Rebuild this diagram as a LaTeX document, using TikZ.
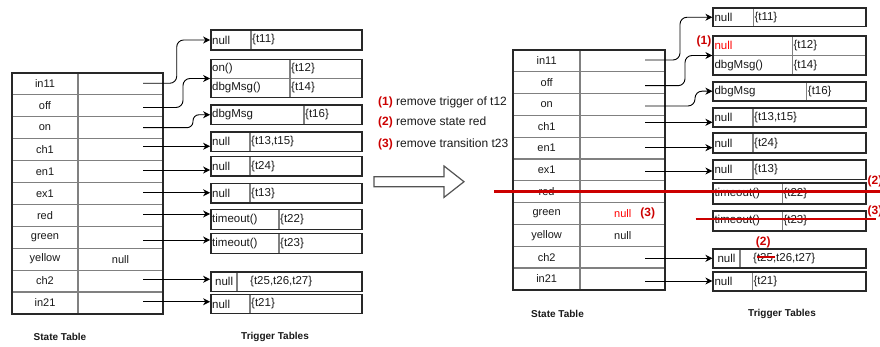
\documentclass[tikz,border=0pt]{standalone}
\usepackage{fontspec}
\setmainfont{Liberation Sans}
\usetikzlibrary{arrows.meta}
\definecolor{bordercol}{RGB}{40,40,40}
\definecolor{divcol}{RGB}{128,128,128}
\definecolor{strikecol}{RGB}{204,0,0}
\definecolor{nullred}{RGB}{255,0,0}
\definecolor{inkcol}{RGB}{25,25,25}
\tikzset{
 tbox/.style={draw=bordercol, line width=1.8pt, inner sep=0pt, rectangle},
 divline/.style={draw=divcol, line width=1.2pt},
 txt/.style={inner sep=1pt, font=\fontsize{11.5}{13}\selectfont, text=inkcol},
 celltxt/.style={inner sep=0pt, font=\fontsize{11}{13}\selectfont, text=inkcol},
 caption/.style={font=\fontsize{10}{12}\selectfont\bfseries, text=inkcol},
 note/.style={font=\fontsize{12}{14}\selectfont, text=inkcol, inner sep=1pt, anchor=west},
 redtag/.style={font=\fontsize{12}{14}\selectfont\bfseries, text=strikecol, inner sep=0.5pt},
 arr/.style={draw=black, line width=0.9pt, -{Stealth[length=7pt,width=7pt,inset=2.2pt]}},
 strike/.style={draw=strikecol, line width=2.4pt},
 hollow/.style={draw=bordercol!80, line width=1.2pt, fill=white},
}
% name, x1, y1, x2, y2, xdiv, left text, right text
\newcommand\trigbox[8]{%
 \draw[divline] (#6,#3) -- (#6,#5);
 \node[tbox, minimum width={(#4-#2)*1pt}, minimum height={(#5-#3)*1pt}] (#1) at ({(#2+#4)/2},{(#3+#5)/2}) {};
 \node[txt, anchor=west] (#1-a) at (#2,{(#3+#5)/2}) {#7};
 \node[txt, anchor=west] (#1-b) at (#6,{(#3+#5)/2}) {#8};
}
% prefix, x1, xdiv, x2, ytop, row height
\newcommand\statetable[6]{%
 \foreach \nm [count=\i from 0] in {in11,off,on,ch1,en1,ex1,red,green,yellow,ch2,in21} {
  \node[celltxt] (#1-\nm) at ({(#2+#3)/2},{#5+(\i+0.5)*#6}) {\nm};
  \ifnum\i>0 \draw[divline] (#2,{#5+\i*#6}) -- (#4,{#5+\i*#6}); \fi
 }
 \draw[divline] (#3,#5) -- (#3,{#5+11*#6});
 \node[tbox, minimum width={(#4-#2)*1pt}, minimum height={11*#6*1pt}] (#1) at ({(#2+#4)/2},{#5+5.5*#6}) {};
}
\begin{document}
\begin{tikzpicture}[x=1pt,y=-1pt]
\useasboundingbox (0,0) rectangle (880,347);

% ---------------- left side ----------------
\statetable{L}{12}{78}{163}{73}{21.9}
\node[celltxt] (L-yellow-v) at (120.5,259.2) {null};

\trigbox{LT11}{211}{30}{362}{50}{251}{null}{\{t11\}}
% double box t12/t14
\draw[divline] (290,59.5) -- (290,97.5);
\draw[divline] (211,78.5) -- (362,78.5);
\node[tbox, minimum width=151pt, minimum height=38pt] (LT12) at (286.5,78.5) {};
\node[txt, anchor=west] (LT12-a) at (211,69) {on()};
\node[txt, anchor=west] (LT12-b) at (290,69) {\{t12\}};
\node[txt, anchor=west] (LT12-c) at (211,88) {dbgMsg()};
\node[txt, anchor=west] (LT12-d) at (290,88) {\{t14\}};
\trigbox{LT16}{211}{105}{362}{124.5}{304}{dbgMsg}{\{t16\}}
\trigbox{LT1315}{211}{132}{362}{151.5}{250}{null}{\{t13,t15\}}
\trigbox{LT24}{211}{156.5}{362}{176}{250}{null}{\{t24\}}
\trigbox{LT13}{211}{183.5}{362}{203}{250}{null}{\{t13\}}
\trigbox{LT22}{211}{209.5}{362}{229.5}{279}{timeout()}{\{t22\}}
\trigbox{LT23}{211}{233.5}{362}{253.5}{279}{timeout()}{\{t23\}}
\trigbox{LT25}{211}{272}{362}{291.5}{237}{\hspace{3pt}null}{\hspace{12pt}\{t25,t26,t27\}}
\trigbox{LT21}{211}{294.5}{362}{313.5}{250}{null}{\{t21\}}

\foreach \nm/\yy in {in11/83.3,off/107.5,on/127.7,ch1/146.3,en1/170,ex1/192.7,red/214,green/240,ch2/279.3,in21/301.7}
  \coordinate (LS-\nm) at (143,\yy);

\draw[arr, rounded corners=7pt] (LS-in11) -- ++(33.7,0) |- (LT11.west);
\draw[arr, rounded corners=7pt] (LS-off) -- ++(40,0) |- (LT12.west);
\draw[arr, rounded corners=6pt] (LS-on) -- ++(50,0) |- (LT16.west);
\draw[arr] (LS-ch1) -- (LS-ch1 -| LT1315.west);
\draw[arr] (LS-en1) -- (LS-en1 -| LT24.west);
\draw[arr] (LS-ex1) -- (LS-ex1 -| LT13.west);
\draw[arr] (LS-red) -- (LS-red -| LT22.west);
\draw[arr] (LS-green) -- (LS-green -| LT23.west);
\draw[arr] (LS-ch2) -- (LS-ch2 -| LT25.west);
\draw[arr] (LS-in21) -- (LS-in21 -| LT21.west);

\node[caption] (Lcap1) at (60,337) {State Table};
\node[caption] (Lcap2) at (275,337) {Trigger Tables};

% ---------------- middle ----------------
\node[note] (n1) at (377,102.7) {\textcolor{strikecol}{\bfseries (1)} remove trigger of t12};
\node[note] (n2) at (377,122.3) {\textcolor{strikecol}{\bfseries (2)} remove state red};
\node[note] (n3) at (377,144) {\textcolor{strikecol}{\bfseries (3)} remove transition t23};
\draw[hollow] (374,176.7) -- (444,176.7) -- (444,166) -- (464,181.7) -- (444,197.4) -- (444,186.7) -- (374,186.7) -- cycle;

% ---------------- right side ----------------
\statetable{R}{513.3}{580}{665}{50}{21.8}
\node[celltxt] (R-yellow-v) at (622.7,235.3) {null};
\node[celltxt, text=nullred] (R-green-v) at (622.7,213.5) {null};
\node[redtag] (tag3g) at (647.7,213.5) {(3)};

\trigbox{RT11}{713.3}{8}{865.7}{26.5}{753.3}{null}{\{t11\}}
\draw[divline] (792.3,36) -- (792.3,75);
\draw[divline] (713.3,55.5) -- (865.7,55.5);
\node[tbox, minimum width=152.4pt, minimum height=39pt] (RT12) at (789.5,55.5) {};
\node[txt, anchor=west, text=nullred] (RT12-a) at (713.3,45.75) {null};
\node[txt, anchor=west] (RT12-b) at (792.3,45.75) {\{t12\}};
\node[txt, anchor=west] (RT12-c) at (713.3,65.25) {dbgMsg()};
\node[txt, anchor=west] (RT12-d) at (792.3,65.25) {\{t14\}};
\node[redtag, anchor=east] (tag1) at (712,41) {(1)};
\trigbox{RT16}{713.3}{81.7}{865.7}{100.7}{806.7}{dbgMsg}{\{t16\}}
\trigbox{RT1315}{713.3}{107.7}{865.7}{127.3}{753}{null}{\{t13,t15\}}
\trigbox{RT24}{713.3}{133.3}{865.7}{153.3}{753}{null}{\{t24\}}
\trigbox{RT13}{713.3}{160}{865.7}{179.5}{753}{null}{\{t13\}}
\trigbox{RT22}{713.3}{183.3}{865.7}{204}{782.3}{timeout()}{\{t22\}}
\trigbox{RT23}{713.3}{210.7}{865.7}{231}{782.3}{timeout()}{\{t23\}}
\trigbox{RT25}{713.3}{249}{865.7}{267.7}{740}{\hspace{3pt}null}{\hspace{12pt}\{t25,t26,t27\}}
\trigbox{RT21}{713.3}{271.7}{865.7}{290.7}{752.3}{null}{\{t21\}}

\foreach \nm/\yy in {in11/60,off/85.7,on/106,ch1/122.3,en1/147.7,ex1/171,ch2/258.3,in21/281}
  \coordinate (RS-\nm) at (645,\yy);

\draw[arr, rounded corners=7pt] (RS-in11) -- ++(35,0) |- (RT11.west);
\draw[arr, rounded corners=7pt] (RS-off) -- ++(40,0) |- (RT12.west);
\draw[arr, rounded corners=7pt] (RS-on) -- ++(50,0) |- (RT16.west);
\draw[arr] (RS-ch1) -- (RS-ch1 -| RT1315.west);
\draw[arr] (RS-en1) -- (RS-en1 -| RT24.west);
\draw[arr] (RS-ex1) -- (RS-ex1 -| RT13.west);
\draw[arr] (RS-ch2) -- (RS-ch2 -| RT25.west);
\draw[arr] (RS-in21) -- (RS-in21 -| RT21.west);

% strike-throughs
\coordinate (s1a) at (494,191.7);
\coordinate (s1b) at (885,191.7);
\draw[strike] (s1a) -- (s1b);
\node[redtag, anchor=west] (tag2r) at (867,181.7) {(2)};
\coordinate (s2a) at (695.7,219);
\coordinate (s2b) at (876,219);
\draw[strike] (s2a) -- (s2b);
\node[redtag, anchor=west] (tag3r) at (867,211.7) {(3)};
\coordinate (s3a) at (756.7,257.3);
\coordinate (s3b) at (775,257.3);
\draw[strike] (s3a) -- (s3b);
\node[redtag] (tag2t) at (763.3,242.7) {(2)};

\node[caption] (Rcap1) at (557.5,314.3) {State Table};
\node[caption] (Rcap2) at (782,314.3) {Trigger Tables};
\end{tikzpicture}
\end{document}
